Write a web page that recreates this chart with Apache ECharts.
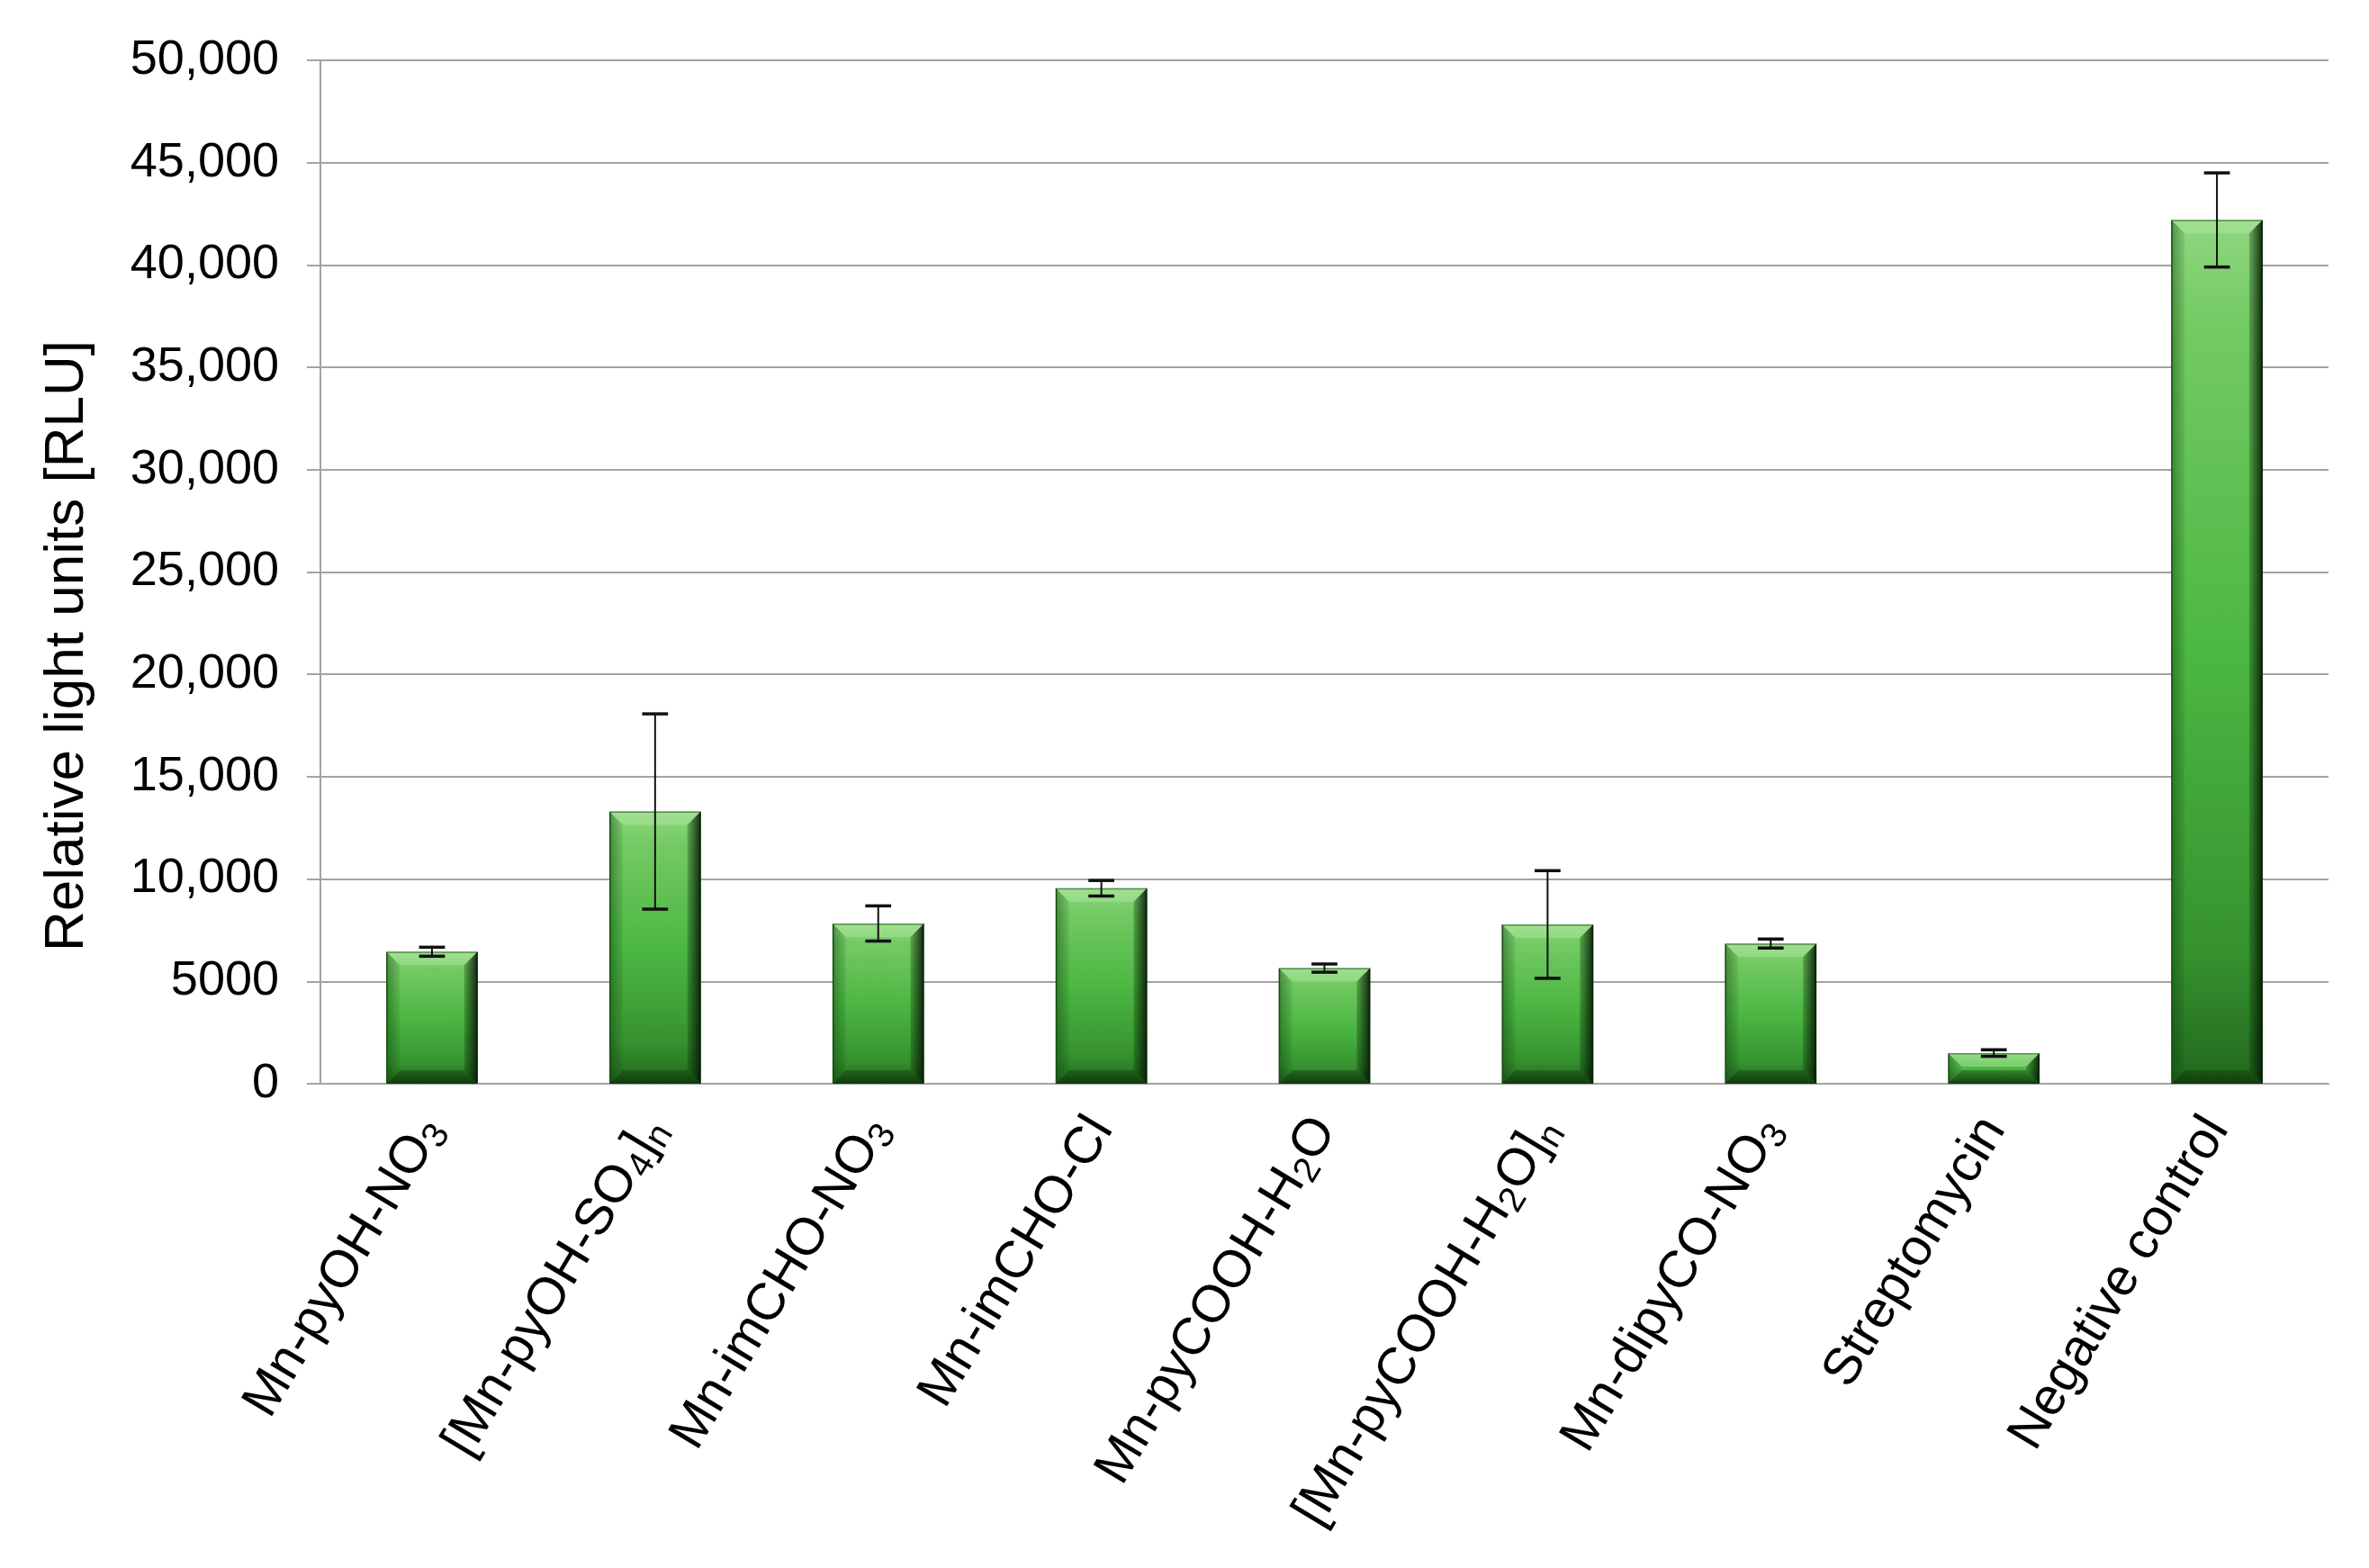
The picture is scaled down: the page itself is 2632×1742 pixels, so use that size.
<!DOCTYPE html>
<html>
<head>
<meta charset="utf-8">
<title>RLU bar chart</title>
<script src="https://cdn.jsdelivr.net/npm/echarts@6/dist/echarts.min.js"></script>
<style>
  html, body { margin: 0; padding: 0; background: #fff; }
  #chart { width: 2632px; height: 1742px; }
</style>
</head>
<body>
<div id="chart"></div>
<script>
// compounds tested
const categories = [
    'Mn-pyOH-NO3',
    '[Mn-pyOH-SO4]n',
    'Mn-imCHO-NO3',
    'Mn-imCHO-Cl',
    'Mn-pyCOOH-H2O',
    '[Mn-pyCOOH-H2O]n',
    'Mn-dipyCO-NO3',
    'Streptomycin',
    'Negative control'
];
// same names with subscripts marked for rich text
const categoryLabels = [
    'Mn-pyOH-NO{s|3}',
    '[Mn-pyOH-SO{s|4}]{s|n}',
    'Mn-imCHO-NO{s|3}',
    'Mn-imCHO-Cl',
    'Mn-pyCOOH-H{s|2}O',
    '[Mn-pyCOOH-H{s|2}O]{s|n}',
    'Mn-dipyCO-NO{s|3}',
    'Streptomycin',
    'Negative control'
];
const rluValues = [6450, 13300, 7830, 9550, 5650, 7780, 6850, 1500, 42200];
const rluErrors = [220, 4770, 860, 380, 200, 2630, 220, 160, 2300];
const yTickLabels = ['0', '5000', '10,000', '15,000', '20,000', '25,000',
    '30,000', '35,000', '40,000', '45,000', '50,000'];

const fontFamily = '"Liberation Sans", Arial, sans-serif';
const gridGray = '#a3a3a3';
const barWidthRatio = 0.41;

const chart = echarts.init(document.getElementById('chart'));

// error bars drawn through the axes
function renderErrorBar(params, api) {
    const idx = api.value(0);
    const val = api.value(1);
    const err = api.value(2);
    const hi = api.coord([idx, val + err]);
    const lo = api.coord([idx, val - err]);
    const half = api.size([1, 0])[0] * 0.058;
    const style = { stroke: '#111', lineWidth: 2 };
    const capStyle = { stroke: '#111', lineWidth: 3.5 };
    return {
        type: 'group',
        children: [
            { type: 'line', shape: { x1: hi[0], y1: hi[1], x2: lo[0], y2: lo[1] }, style: style },
            { type: 'line', shape: { x1: hi[0] - half, y1: hi[1], x2: hi[0] + half, y2: hi[1] }, style: capStyle },
            { type: 'line', shape: { x1: lo[0] - half, y1: lo[1], x2: lo[0] + half, y2: lo[1] }, style: capStyle }
        ]
    };
}

// bevel frame on top of each bar (Excel-like 3D look)
function renderBevel(params, api) {
    const idx = api.value(0);
    const top = api.coord([idx, api.value(1)]);
    const base = api.coord([idx, 0]);
    const w = api.size([1, 0])[0] * barWidthRatio;
    const x0 = top[0] - w / 2, x1 = top[0] + w / 2;
    const y0 = top[1], y1 = base[1];
    const b = Math.min(15, (y1 - y0) / 2, w / 2);
    const poly = function (pts, fill) {
        return { type: 'polygon', shape: { points: pts }, style: { fill: fill }, silent: true };
    };
    return {
        type: 'group',
        children: [
            poly([[x0, y0], [x1, y0], [x1 - b, y0 + b], [x0 + b, y0 + b]], 'rgba(190,240,175,0.35)'),
            poly([[x0, y0], [x0 + b, y0 + b], [x0 + b, y1 - b], [x0, y1]], {
                type: 'linear', x: 0, y: 0, x2: 1, y2: 0,
                colorStops: [
                    { offset: 0, color: 'rgba(10,60,8,0.45)' },
                    { offset: 1, color: 'rgba(10,60,8,0.08)' }
                ]
            }),
            poly([[x1, y0], [x1, y1], [x1 - b, y1 - b], [x1 - b, y0 + b]], {
                type: 'linear', x: 0, y: 0, x2: 1, y2: 0,
                colorStops: [
                    { offset: 0, color: 'rgba(8,40,6,0.25)' },
                    { offset: 1, color: 'rgba(3,22,2,0.9)' }
                ]
            }),
            poly([[x0, y1], [x0 + b, y1 - b], [x1 - b, y1 - b], [x1, y1]], {
                type: 'linear', x: 0, y: 0, x2: 0, y2: 1,
                colorStops: [
                    { offset: 0, color: 'rgba(5,35,4,0.3)' },
                    { offset: 1, color: 'rgba(5,35,4,0.6)' }
                ]
            })
        ]
    };
}

const option = {
    backgroundColor: '#fff',
    animation: false,
    grid: { left: 356, right: 45, top: 67, bottom: 538 },
    xAxis: {
        type: 'category',
        data: categories,
        axisLine: { lineStyle: { color: gridGray, width: 2 } },
        axisTick: { show: false },
        axisLabel: {
            interval: 0,
            rotate: 59,
            margin: 42,
            color: '#000',
            fontFamily: fontFamily,
            fontSize: 58,
            formatter: function (value, i) {
                return categoryLabels[i];
            },
            rich: {
                s: { fontSize: 40, fontFamily: fontFamily, color: '#000', padding: [26, 0, 0, 0] }
            }
        }
    },
    yAxis: {
        type: 'value',
        min: 0,
        max: 50000,
        interval: 5000,
        name: 'Relative light units [RLU]',
        nameLocation: 'middle',
        nameRotate: 90,
        nameGap: 250,
        nameTextStyle: {
            fontFamily: fontFamily,
            fontSize: 62,
            color: '#000',
            padding: [0, 164, 0, 0]
        },
        axisLine: { show: true, lineStyle: { color: gridGray, width: 2 } },
        axisTick: { show: true, length: 15, lineStyle: { color: gridGray, width: 2 } },
        splitLine: { lineStyle: { color: gridGray, width: 2 } },
        axisLabel: {
            margin: 46,
            color: '#000',
            fontFamily: fontFamily,
            fontSize: 54,
            formatter: function (value) {
                return yTickLabels[Math.round(value / 5000)];
            }
        }
    },
    series: [
        {
            type: 'bar',
            data: rluValues,
            barWidth: barWidthRatio * 100 + '%',
            itemStyle: {
                borderColor: '#1c5a17',
                borderWidth: 1.5,
                color: {
                    type: 'linear', x: 0, y: 0, x2: 0, y2: 1,
                    colorStops: [
                        { offset: 0, color: '#8fd780' },
                        { offset: 0.12, color: '#74ca64' },
                        { offset: 0.5, color: '#4cb743' },
                        { offset: 0.85, color: '#36922f' },
                        { offset: 1, color: '#22681d' }
                    ]
                }
            },
            z: 2
        },
        {
            type: 'custom',
            renderItem: renderBevel,
            data: rluValues.map(function (v, i) { return [i, v]; }),
            encode: { x: 0, y: 1 },
            silent: true,
            z: 3
        },
        {
            type: 'custom',
            renderItem: renderErrorBar,
            data: rluValues.map(function (v, i) { return [i, v, rluErrors[i]]; }),
            encode: { x: 0, y: 1 },
            z: 5
        }
    ]
};

chart.setOption(option);
</script>
</body>
</html>
